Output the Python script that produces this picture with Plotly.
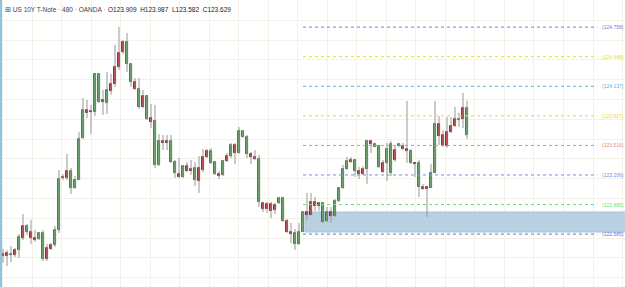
import plotly.graph_objects as go

# ---- data (US 10Y T-Note, 480 min, OANDA) ----
opens = [122.355,122.355,122.376,122.366,122.555,122.544,122.670,122.544,122.523,122.597,
         122.597,122.324,122.429,122.628,123.164,123.174,123.174,123.248,123.153,123.584,
         123.888,123.857,123.867,124.266,124.266,123.972,124.098,124.088,124.161,124.340,
         124.497,124.602,124.371,124.109,124.109,123.920,124.035,123.762,123.773,123.563,
         123.542,123.542,123.563,123.342,123.185,123.300,123.248,123.248,123.279,123.143,
         123.258,123.395,123.458,123.342,123.195,123.353,123.353,123.521,123.437,123.668,
         123.668,123.605,123.395,123.374,123.374,122.849,122.849,122.828,122.838,122.964,
         122.964,122.607,122.586,122.597,122.607,122.817,122.786,122.786,122.880,122.880,
         122.912,122.817,122.775,122.933,123.069,123.269,123.353,123.342,123.363,123.216,
         123.216,123.563,123.531,123.531,123.510,123.237,123.479,123.531,123.363,123.531,
         123.479,123.458,123.458,123.321,123.332,123.059,123.059,123.227,123.741,123.615,
         123.510,123.510,123.657,123.720,123.794,123.794,123.909]
highs = [122.429,122.418,122.460,122.439,122.586,122.796,122.691,122.733,122.628,122.607,
         122.628,122.481,122.492,122.670,123.258,123.216,123.426,123.279,123.195,123.657,
         124.014,123.993,123.941,124.266,124.277,124.098,124.287,124.266,124.571,124.760,
         124.623,124.697,124.382,124.224,124.224,124.098,124.046,123.951,123.941,123.636,
         123.626,123.626,123.626,123.363,123.384,123.311,123.342,123.363,123.342,123.405,
         123.479,123.479,123.489,123.353,123.248,123.363,123.437,123.542,123.542,123.710,
         123.678,123.626,123.447,123.468,123.416,122.922,122.922,122.922,122.912,122.975,
         122.975,122.744,122.702,122.639,122.702,122.828,123.017,123.017,122.975,122.922,
         122.922,122.870,122.870,122.954,123.080,123.311,123.395,123.395,123.374,123.290,
         123.300,123.563,123.573,123.542,123.521,123.363,123.542,123.563,123.510,123.542,
         123.542,123.983,123.479,123.332,123.363,123.111,123.080,123.321,123.983,123.825,
         123.678,123.815,123.815,123.920,123.857,124.067,123.987]
lows = [122.282,122.250,122.292,122.345,122.334,122.523,122.576,122.481,122.502,122.523,
        122.303,122.303,122.418,122.450,122.597,123.153,123.153,123.006,123.059,123.153,
        123.584,123.804,123.636,123.825,123.962,123.836,123.846,124.046,124.130,124.308,
        124.476,124.287,124.130,124.098,123.899,123.909,123.783,123.699,123.279,123.300,
        123.468,123.468,123.332,123.174,123.174,123.174,123.237,123.206,123.090,123.017,
        123.237,123.384,123.321,123.206,123.164,123.195,123.342,123.384,123.321,123.426,
        123.594,123.384,123.321,123.363,122.870,122.817,122.807,122.754,122.796,122.901,
        122.712,122.597,122.492,122.418,122.471,122.607,122.733,122.786,122.828,122.828,
        122.702,122.712,122.702,122.765,122.922,123.059,123.258,123.332,123.185,123.164,
        123.206,123.111,123.437,123.500,123.279,123.227,123.143,123.195,123.342,123.500,
        123.468,123.332,123.321,123.185,122.975,123.048,122.765,123.069,123.227,123.521,
        123.500,123.489,123.647,123.710,123.710,123.699,123.582]
closes = [122.376,122.387,122.366,122.418,122.418,122.670,122.607,122.607,122.544,122.534,
          122.324,122.439,122.471,122.471,122.628,123.185,123.248,123.069,123.069,123.153,
          123.594,123.888,123.878,123.867,123.972,123.993,123.962,124.161,124.340,124.487,
          124.602,124.371,124.182,124.182,123.920,124.035,123.794,123.804,123.311,123.311,
          123.563,123.563,123.342,123.227,123.216,123.185,123.300,123.269,123.153,123.279,
          123.395,123.458,123.332,123.216,123.216,123.206,123.405,123.405,123.521,123.437,
          123.605,123.426,123.426,123.395,122.922,122.912,122.901,122.901,122.891,122.912,
          122.723,122.723,122.607,122.481,122.481,122.607,122.817,122.922,122.922,122.912,
          122.712,122.723,122.817,122.775,122.933,123.069,123.269,123.363,123.248,123.248,
          123.269,123.269,123.563,123.500,123.290,123.332,123.332,123.227,123.468,123.510,
          123.510,123.479,123.332,123.332,123.080,123.080,123.080,123.069,123.227,123.741,
          123.626,123.657,123.720,123.794,123.783,123.909,123.629]

fib_levels = [124.758, 124.448, 124.137, 123.827, 123.516, 123.206, 122.895, 122.585]
fib_colors = ["#7c7ce0", "#e8e020", "#58b4de", "#e8e020", "#e08a8a", "#6a92e6", "#5fe07a", "#5a78e6"]
zone_top, zone_bottom = 122.817, 122.607

title_text = "⊞ US 10Y T-Note · 480 · OANDA ·"
ohlc_text = "O123.909  H123.987  L123.582  C123.629"

# ---- build figure ----
n = len(opens)
idx = list(range(n))
green_fill, green_line = "#48b443", "#24561f"
red_fill, red_line = "#e3121c", "#5a0a0a"

wx, wy = [], []
for i in idx:
    wx += [i, i, None]
    wy += [highs[i], lows[i], None]

base = [min(o, c) for o, c in zip(opens, closes)]
height = [max(abs(c - o), 0.004) for o, c in zip(opens, closes)]
fill = [green_fill if c < o else red_fill for o, c in zip(opens, closes)]
edge = [green_line if c < o else red_line for o, c in zip(opens, closes)]

fig = go.Figure()
fig.add_trace(go.Scatter(x=wx, y=wy, mode="lines", line=dict(color="#979797", width=1),
                         hoverinfo="skip", showlegend=False))
fig.add_trace(go.Bar(x=idx, y=height, base=base, width=0.68,
                     marker=dict(color=fill, line=dict(color=edge, width=0.8)),
                     showlegend=False))

# zone rectangle (above grid, below candles)
fig.add_shape(type="rect", xref="x", yref="y", x0=75.5, x1=160, y0=zone_bottom, y1=zone_top,
              fillcolor="#b9d0e2", line=dict(color="#a9c4da", width=1), layer="between")

# fib lines & labels
for lv, col in zip(fib_levels, fib_colors):
    fig.add_shape(type="line", xref="x", yref="y", x0=75, x1=148.6, y0=lv, y1=lv,
                  line=dict(color=col, width=1, dash="dot"))
    fig.add_annotation(x=149.3, y=lv, xref="x", yref="y", text=f"({lv:.3f})",
                       showarrow=False, xanchor="left", yanchor="middle",
                       font=dict(size=5, color=col, family="Liberation Sans"))

# left accent bar
fig.add_shape(type="line", xref="paper", yref="paper", x0=0.0016, x1=0.0016, y0=0, y1=1,
              line=dict(color="#8fc3e0", width=2))

fig.add_annotation(x=0.005, y=0.968, xref="paper", yref="paper", text=title_text,
                   showarrow=False, xanchor="left", yanchor="middle",
                   font=dict(size=6.5, color="#444444", family="Liberation Sans"))
fig.add_annotation(x=0.169, y=0.968, xref="paper", yref="paper", text=ohlc_text,
                   showarrow=False, xanchor="left", yanchor="middle",
                   font=dict(size=6.5, color="#222222", family="Liberation Sans"))

fig.update_layout(
    width=625, height=287, margin=dict(l=0, r=0, t=0, b=0),
    paper_bgcolor="white", plot_bgcolor="white", bargap=0,
    xaxis=dict(range=[-0.75, 155.5], showticklabels=False, showgrid=True,
               gridcolor="#f4f2e8", gridwidth=1, tick0=7.25, dtick=7.382,
               zeroline=False, showline=False, ticks=""),
    yaxis=dict(range=[122.0295, 125.043], showticklabels=False, showgrid=True,
               gridcolor="#f4f2e8", gridwidth=1, tick0=124.623, dtick=0.2079,
               zeroline=False, showline=False, ticks=""),
)

fig.write_html("out.html")
